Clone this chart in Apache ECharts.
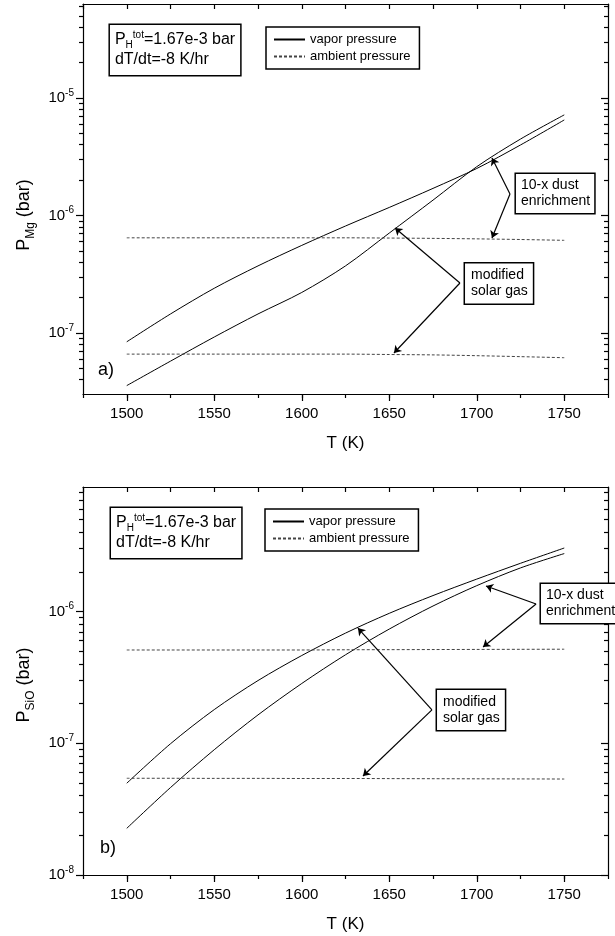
<!DOCTYPE html>
<html>
<head>
<meta charset="utf-8">
<script src="https://cdn.jsdelivr.net/npm/echarts@6/dist/echarts.min.js"></script>
<style>
html, body { margin: 0; background: #fff; }
#chart { width: 615px; height: 936px; }
</style>
</head>
<body>
<div id="chart"></div>
<script>
(function () {
	'use strict';

	// temperature grid (K)
	var T = [1500, 1525, 1550, 1575, 1600, 1625, 1650, 1675, 1700, 1725, 1750];

	// panel a) P_Mg (bar)
	var mgSolarVapor = [3.56e-8, 5.75e-8, 9.23e-8, 1.45e-7, 2.21e-7, 3.72e-7, 7.08e-7, 1.35e-6, 2.60e-6, 4.47e-6, 7.18e-6];
	var mgDustVapor = [8.4e-8, 1.45e-7, 2.40e-7, 3.72e-7, 5.56e-7, 8.13e-7, 1.17e-6, 1.70e-6, 2.51e-6, 3.98e-6, 6.5e-6];
	var mgDustAmbient = [6.45e-7, 6.45e-7, 6.45e-7, 6.45e-7, 6.45e-7, 6.45e-7, 6.42e-7, 6.38e-7, 6.32e-7, 6.24e-7, 6.14e-7];
	var mgSolarAmbient = [6.6e-8, 6.6e-8, 6.6e-8, 6.6e-8, 6.6e-8, 6.6e-8, 6.55e-8, 6.5e-8, 6.4e-8, 6.28e-8, 6.15e-8];

	// panel b) P_SiO (bar)
	var sioSolarVapor = [4.97e-8, 9.91e-8, 1.80e-7, 2.99e-7, 4.63e-7, 6.85e-7, 9.68e-7, 1.32e-6, 1.76e-6, 2.32e-6, 3.03e-6];
	var sioDustVapor = [2.26e-8, 4.61e-8, 8.93e-8, 1.64e-7, 2.84e-7, 4.69e-7, 7.35e-7, 1.10e-6, 1.57e-6, 2.14e-6, 2.75e-6];
	var sioDustAmbient = [5.1e-7, 5.1e-7, 5.1e-7, 5.1e-7, 5.1e-7, 5.12e-7, 5.13e-7, 5.14e-7, 5.15e-7, 5.16e-7, 5.17e-7];
	var sioSolarAmbient = [5.42e-8, 5.42e-8, 5.41e-8, 5.41e-8, 5.4e-8, 5.4e-8, 5.39e-8, 5.38e-8, 5.37e-8, 5.36e-8, 5.35e-8];

	// tick labels
	var xLabels = [1500, 1550, 1600, 1650, 1700, 1750];
	var yMajorA = [1e-7, 1e-6, 1e-5];
	var yMajorB = [1e-8, 1e-7, 1e-6];

	// annotation anchors, in data units [T, P]
	var arrowsA = [[1719, 1.524e-6, 1708.7, 3.08e-6], [1719, 1.524e-6, 1708.7, 6.43e-7],
		[1690.4, 2.66e-7, 1653.3, 7.82e-7], [1690.4, 2.66e-7, 1652.7, 6.75e-8]];
	var arrowsB = [[1733.9, 1.138e-6, 1705.3, 1.56e-6], [1733.9, 1.138e-6, 1703.6, 5.37e-7],
		[1674.4, 1.79e-7, 1632.1, 7.48e-7], [1674.4, 1.79e-7, 1635, 5.64e-8]];
	var notesA = { info: [1490.4, 2.56e-5], dust: [1722.4, 1.54e-6], solar: [1693.3, 2.64e-7], tag: [1483.6, 4.83e-8] };
	var notesB = { info: [1491, 3.94e-6], dust: [1736.7, 1.148e-6], solar: [1677.3, 1.79e-7], tag: [1484.7, 1.60e-8] };

	var FONT = '"Liberation Sans", Arial, Helvetica, sans-serif';

	function pairs(ys) {
		return T.map(function (t, i) { return [t, ys[i]]; });
	}

	function minorTicks(min, max) {
		var out = [];
		for (var e = -9; e <= -4; e++) {
			for (var m = 2; m <= 9; m++) {
				var v = m * Math.pow(10, e);
				if (v >= min && v <= max) out.push(v);
			}
		}
		return out;
	}

	function powLabel(v) {
		var e = Math.round(Math.log(v) / Math.LN10);
		return '{b|10}{s|' + e + '}';
	}

	var xMinor = [];
	for (var t = 1475; t <= 1775; t += 25) xMinor.push(t);

	function xAxes(g) {
		var base = { type: 'value', gridIndex: g, min: 1475, max: 1775, splitLine: { show: false } };
		var line = { show: true, onZero: false, lineStyle: { color: '#000', width: 1.2 } };
		return [
			Object.assign({}, base, {
				position: 'bottom', axisLine: line,
				axisTick: { customValues: xLabels, length: 7, lineStyle: { color: '#000', width: 1.2 } },
				axisLabel: {
					customValues: xLabels, fontSize: 15, color: '#000', margin: 12, fontFamily: FONT,
					formatter: function (v) { return String(v); }
				},
				name: 'T (K)', nameLocation: 'middle', nameGap: 41,
				nameTextStyle: { fontSize: 17, color: '#000', fontFamily: FONT }
			}),
			Object.assign({}, base, {
				position: 'bottom', axisLine: { show: false, onZero: false },
				axisTick: { customValues: xMinor, length: 4, lineStyle: { color: '#000', width: 1.2 } },
				axisLabel: { show: false }
			}),
			Object.assign({}, base, {
				position: 'top', axisLine: line,
				axisTick: { customValues: xMinor, inside: true, length: 5, lineStyle: { color: '#000', width: 1.2 } },
				axisLabel: { show: false }
			})
		];
	}

	function yAxes(g, min, max, majors, title, shift) {
		var base = { type: 'log', logBase: 10, gridIndex: g, min: min, max: max, splitLine: { show: false } };
		var line = { show: true, onZero: false, lineStyle: { color: '#000', width: 1.2 } };
		var minors = minorTicks(min, max);
		var tick = function (vals, len, inside) {
			return { customValues: vals, length: len, inside: inside, lineStyle: { color: '#000', width: 1.2 } };
		};
		return [
			Object.assign({}, base, {
				position: 'left', axisLine: line, axisTick: tick(majors, 7, false),
				axisLabel: {
					customValues: majors, formatter: powLabel, margin: 9, color: '#000',
					rich: {
						b: { fontSize: 15, fontFamily: FONT, color: '#000', lineHeight: 20 },
						s: { fontSize: 10, fontFamily: FONT, color: '#000', verticalAlign: 'top', lineHeight: 10 }
					}
				},
				name: title, nameLocation: 'middle', nameGap: 46,
				nameTextStyle: {
					padding: [0, shift, 0, 0],
					rich: {
						p: { fontSize: 18, fontFamily: FONT, color: '#000', lineHeight: 26 },
						s: { fontSize: 12, fontFamily: FONT, color: '#000', verticalAlign: 'bottom', lineHeight: 12 }
					}
				}
			}),
			Object.assign({}, base, { position: 'left', axisLine: { show: false }, axisTick: tick(minors, 4, false), axisLabel: { show: false } }),
			Object.assign({}, base, { position: 'right', axisLine: line, axisTick: tick(majors, 7, true), axisLabel: { show: false } }),
			Object.assign({}, base, { position: 'right', axisLine: { show: false }, axisTick: tick(minors, 4, true), axisLabel: { show: false } })
		];
	}

	function boxLabel(text, fontSize, lh, pad, rich) {
		return {
			show: true, position: 'inside', align: 'left', verticalAlign: 'middle',
			formatter: text, fontSize: fontSize, lineHeight: lh, color: '#000', fontFamily: FONT,
			backgroundColor: '#fff', borderColor: '#000', borderWidth: 1.5, padding: pad,
			rich: rich
		};
	}

	function notes(n, tagText) {
		var rich = {
			p: { fontSize: 16, fontFamily: FONT, color: '#000', lineHeight: 20 },
			sb: { fontSize: 10, fontFamily: FONT, color: '#000', verticalAlign: 'bottom', lineHeight: 10 },
			sp: { fontSize: 10, fontFamily: FONT, color: '#000', verticalAlign: 'top', lineHeight: 10 }
		};
		var hidden = { color: 'rgba(0,0,0,0)' };
		return {
			silent: true, animation: false, symbol: 'circle', symbolSize: 1, itemStyle: hidden,
			data: [
				{ coord: n.info, label: boxLabel('{p|P}{sb|H}{sp|tot}{p|=1.67e-3 bar}\n{p|dT/dt=-8 K/hr}', 16, 20, [5, 5, 5, 5], rich) },
				{ coord: n.dust, label: boxLabel('10-x dust\nenrichment', 14, 16, [4, 4, 3, 5]) },
				{ coord: n.solar, label: boxLabel('modified\nsolar gas', 14, 16, [4, 5, 4, 6]) },
				{ coord: n.tag, label: { show: true, position: 'inside', align: 'left', formatter: tagText, fontSize: 18, color: '#000', fontFamily: FONT } }
			]
		};
	}

	function arrowLines(list) {
		return {
			silent: true, animation: false, symbol: ['none', 'arrow'], symbolSize: 7,
			lineStyle: { color: '#000', width: 1.2, type: 'solid' },
			label: { show: false },
			data: list.map(function (a) { return [{ coord: [a[0], a[1]] }, { coord: [a[2], a[3]] }]; })
		};
	}

	function curve(name, xi, yi, ys, dashed) {
		return {
			name: name, type: 'line', xAxisIndex: xi, yAxisIndex: yi, data: pairs(ys),
			symbol: 'none', smooth: 0.3, animation: false,
			itemStyle: { color: '#000' },
			lineStyle: dashed ? { color: '#444', width: 1, type: [3, 2] } : { color: '#000', width: 1 }
		};
	}

	var vap = 'vapor pressure';
	var amb = 'ambient pressure';

	var sA = curve(vap, 0, 0, mgSolarVapor, false);
	sA.markLine = arrowLines(arrowsA);
	sA.markPoint = notes(notesA, 'a)');
	var sB = curve(vap, 3, 4, sioSolarVapor, false);
	sB.markLine = arrowLines(arrowsB);
	sB.markPoint = notes(notesB, 'b)');

	function legendAt(left, top) {
		return {
			data: [vap, amb], orient: 'vertical', left: left, top: top, selectedMode: false,
			padding: [6, 9, 6, 7], itemWidth: 31, itemHeight: 12, itemGap: 4,
			borderColor: '#000', borderWidth: 1.5, backgroundColor: '#fff',
			itemStyle: { opacity: 0 },
			textStyle: { fontSize: 13, color: '#000', fontFamily: FONT }
		};
	}

	var chart = echarts.init(document.getElementById('chart'), null, { renderer: 'canvas' });
	chart.setOption({
		animation: false,
		backgroundColor: '#fff',
		textStyle: { fontFamily: FONT },
		grid: [
			{ left: 83, top: 4, width: 525, height: 390, containLabel: false, outerBoundsMode: 'none' },
			{ left: 83, top: 487, width: 525, height: 388, containLabel: false, outerBoundsMode: 'none' }
		],
		legend: [legendAt(266, 27), legendAt(265, 509)],
		xAxis: xAxes(0).concat(xAxes(1)),
		yAxis: yAxes(0, 3.02e-8, 6.31e-5, yMajorA, '{p|P}{s|Mg}{p| (bar)}', 32)
			.concat(yAxes(1, 1e-8, 8.8e-6, yMajorB, '{p|P}{s|SiO}{p| (bar)}', 8)),
		series: [
			sA,
			curve(vap, 0, 0, mgDustVapor, false),
			curve(amb, 0, 0, mgDustAmbient, true),
			curve(amb, 0, 0, mgSolarAmbient, true),
			sB,
			curve(vap, 3, 4, sioDustVapor, false),
			curve(amb, 3, 4, sioDustAmbient, true),
			curve(amb, 3, 4, sioSolarAmbient, true)
		]
	});
})();
</script>
</body>
</html>
